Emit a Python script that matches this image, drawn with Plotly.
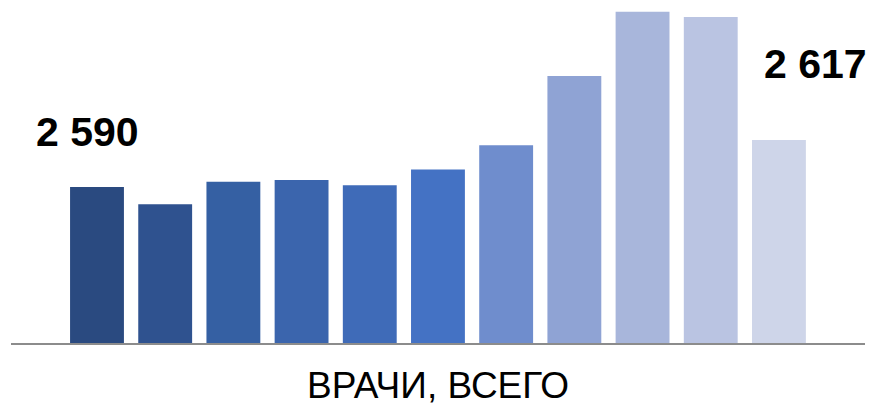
import plotly.graph_objects as go

years = ["2010", "2011", "2012", "2013", "2014", "2015", "2016", "2017", "2018", "2019", "2020"]
values = [2590, 2580, 2593, 2594, 2591, 2600, 2614, 2654, 2691, 2688, 2617]
colors = ["#2A4A80", "#2F528F", "#3560A3", "#3B65AD", "#3F6BB8", "#4472C4",
          "#6F8DCD", "#8FA3D4", "#A8B6DB", "#BAC4E2", "#CED5E9"]
label_first = "2 590"
label_last = "2 617"
axis_title = "ВРАЧИ, ВСЕГО"

fig = go.Figure(go.Bar(x=years, y=values, marker=dict(color=colors, line=dict(width=0)),
                       width=0.79, hoverinfo="skip"))

fig.add_annotation(x=0, y=values[0], text=label_first, showarrow=False,
                   xshift=-9.5, yshift=54.5, yanchor="middle",
                   font=dict(family="Liberation Sans, Arial", size=41, color="#000000", weight="bold"))
fig.add_annotation(x=len(values) - 1, y=values[-1], text=label_last, showarrow=False,
                   xshift=37, yshift=76.5, yanchor="middle",
                   font=dict(family="Liberation Sans, Arial", size=41, color="#000000", weight="bold"))

# page body has an 8px default margin: figure placed at (8, 8)
fig.update_layout(
    width=869, height=398,
    margin=dict(l=3, r=12, t=0, b=63),
    plot_bgcolor="white", paper_bgcolor="white",
    showlegend=False,
    xaxis=dict(type="category", range=[-1.261, 11.262], showticklabels=False, ticks="",
               showgrid=False, zeroline=False, showline=True, linecolor="#8C8C8C", linewidth=1.5,
               title=dict(text=axis_title, standoff=28,
                          font=dict(family="Liberation Sans, Arial", size=37, color="#000000"))),
    yaxis=dict(range=[2500, 2500 + 335 / 1.734], visible=False, showgrid=False, zeroline=False),
)

fig.write_html("out.html")
